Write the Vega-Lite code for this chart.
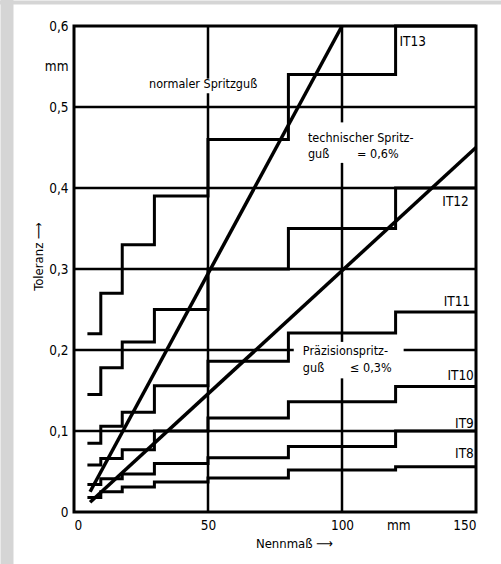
{
  "$schema": "https://vega.github.io/schema/vega-lite/v6.json",
  "width": 402,
  "height": 486,
  "autosize": "none",
  "padding": {"left": 74, "top": 26, "right": 25, "bottom": 52},
  "background": "white",
  "config": {
    "font": "Liberation Sans Narrow, DejaVu Sans Condensed, sans-serif",
    "view": {"stroke": "black", "strokeWidth": 3}
  },
  "datasets": {
    "hgrid": [
      {"tol": 0.1, "from": 0, "to": 150},
      {"tol": 0.2, "from": 0, "to": 82},
      {"tol": 0.2, "from": 123, "to": 150},
      {"tol": 0.3, "from": 0, "to": 150},
      {"tol": 0.4, "from": 0, "to": 150},
      {"tol": 0.5, "from": 0, "to": 150}
    ],
    "vgrid": [
      {"nenn": 50, "from": 0, "to": 0.517},
      {"nenn": 50, "from": 0.535, "to": 0.6},
      {"nenn": 100, "from": 0, "to": 0.165},
      {"nenn": 100, "from": 0.21, "to": 0.431},
      {"nenn": 100, "from": 0.481, "to": 0.6}
    ],
    "steps": [
      {"grade": "IT13", "nenn": 5, "tol": 0.22},
      {"grade": "IT13", "nenn": 10, "tol": 0.27},
      {"grade": "IT13", "nenn": 18, "tol": 0.33},
      {"grade": "IT13", "nenn": 30, "tol": 0.39},
      {"grade": "IT13", "nenn": 50, "tol": 0.46},
      {"grade": "IT13", "nenn": 80, "tol": 0.54},
      {"grade": "IT13", "nenn": 120, "tol": 0.6},
      {"grade": "IT13", "nenn": 150, "tol": 0.6},
      {"grade": "IT12", "nenn": 5, "tol": 0.145},
      {"grade": "IT12", "nenn": 10, "tol": 0.178},
      {"grade": "IT12", "nenn": 18, "tol": 0.21},
      {"grade": "IT12", "nenn": 30, "tol": 0.25},
      {"grade": "IT12", "nenn": 50, "tol": 0.3},
      {"grade": "IT12", "nenn": 80, "tol": 0.35},
      {"grade": "IT12", "nenn": 120, "tol": 0.4},
      {"grade": "IT12", "nenn": 150, "tol": 0.4},
      {"grade": "IT11", "nenn": 5, "tol": 0.085},
      {"grade": "IT11", "nenn": 10, "tol": 0.106},
      {"grade": "IT11", "nenn": 18, "tol": 0.123},
      {"grade": "IT11", "nenn": 30, "tol": 0.156},
      {"grade": "IT11", "nenn": 50, "tol": 0.186},
      {"grade": "IT11", "nenn": 80, "tol": 0.221},
      {"grade": "IT11", "nenn": 120, "tol": 0.247},
      {"grade": "IT11", "nenn": 150, "tol": 0.247},
      {"grade": "IT10", "nenn": 5, "tol": 0.058},
      {"grade": "IT10", "nenn": 10, "tol": 0.066},
      {"grade": "IT10", "nenn": 18, "tol": 0.077},
      {"grade": "IT10", "nenn": 30, "tol": 0.1},
      {"grade": "IT10", "nenn": 50, "tol": 0.116},
      {"grade": "IT10", "nenn": 80, "tol": 0.136},
      {"grade": "IT10", "nenn": 120, "tol": 0.155},
      {"grade": "IT10", "nenn": 150, "tol": 0.155},
      {"grade": "IT9", "nenn": 5, "tol": 0.034},
      {"grade": "IT9", "nenn": 10, "tol": 0.041},
      {"grade": "IT9", "nenn": 18, "tol": 0.047},
      {"grade": "IT9", "nenn": 30, "tol": 0.06},
      {"grade": "IT9", "nenn": 50, "tol": 0.067},
      {"grade": "IT9", "nenn": 80, "tol": 0.081},
      {"grade": "IT9", "nenn": 120, "tol": 0.1},
      {"grade": "IT9", "nenn": 150, "tol": 0.1},
      {"grade": "IT8", "nenn": 5, "tol": 0.018},
      {"grade": "IT8", "nenn": 10, "tol": 0.025},
      {"grade": "IT8", "nenn": 18, "tol": 0.031},
      {"grade": "IT8", "nenn": 30, "tol": 0.037},
      {"grade": "IT8", "nenn": 50, "tol": 0.042},
      {"grade": "IT8", "nenn": 80, "tol": 0.052},
      {"grade": "IT8", "nenn": 120, "tol": 0.056},
      {"grade": "IT8", "nenn": 150, "tol": 0.056}
    ],
    "limits": [
      {"limit": "0,6%", "nenn": 6, "tol": 0.025},
      {"limit": "0,6%", "nenn": 100, "tol": 0.6},
      {"limit": "0,3%", "nenn": 6, "tol": 0.012},
      {"limit": "0,3%", "nenn": 150, "tol": 0.45}
    ],
    "notes": [
      {"nenn": 28, "tol": 0.528, "label": "normaler Spritzguß"},
      {"nenn": 87.3, "tol": 0.462, "label": "technischer Spritz-"},
      {"nenn": 87.3, "tol": 0.442, "label": "guß"},
      {"nenn": 105.6, "tol": 0.442, "label": "= 0,6%"},
      {"nenn": 85.4, "tol": 0.199, "label": "Präzisionspritz-"},
      {"nenn": 85.4, "tol": 0.178, "label": "guß"},
      {"nenn": 103, "tol": 0.178, "label": "≤ 0,3%"}
    ],
    "grades": [
      {"nenn": 131.3, "tol": 0.58, "label": "IT13"},
      {"nenn": 147.3, "tol": 0.383, "label": "IT12"},
      {"nenn": 147.8, "tol": 0.259, "label": "IT11"},
      {"nenn": 149.2, "tol": 0.168, "label": "IT10"},
      {"nenn": 149.2, "tol": 0.109, "label": "IT9"},
      {"nenn": 149.2, "tol": 0.072, "label": "IT8"}
    ]
  },
  "resolve": {"axis": {"x": "independent", "y": "independent"}},
  "layer": [
    {
      "data": {"name": "hgrid"},
      "mark": {"type": "rule", "color": "black", "strokeWidth": 2.5},
      "encoding": {
        "y": {
          "field": "tol", "type": "quantitative",
          "scale": {"domain": [0, 0.6], "nice": false, "zero": true},
          "axis": {
            "orient": "left",
            "values": [0, 0.1, 0.2, 0.3, 0.4, 0.5, 0.55, 0.6],
            "format": ".1~f",
            "labelExpr": "datum.value == 0.55 ? 'mm' : replace(datum.label, '.', ',')",
            "domain": false, "ticks": false, "tickSize": 0, "grid": false,
            "labelPadding": 6, "labelFontSize": 13.5, "labelColor": "#000000",
            "title": "Toleranz ⟶", "titleFontSize": 13, "titleFontWeight": "normal",
            "titleColor": "#000000", "titleX": -36, "titleY": 230,
            "titleAlign": "center", "titleBaseline": "middle", "titleAngle": 270
          }
        },
        "x": {
          "field": "from", "type": "quantitative",
          "scale": {"domain": [0, 150], "nice": false, "zero": true},
          "axis": {
            "orient": "bottom",
            "values": [0, 50, 100, 121, 150],
            "labelExpr": "datum.value == 121 ? 'mm' : datum.label",
            "domain": false, "ticks": false, "tickSize": 0, "grid": false,
            "labelPadding": 6, "labelFontSize": 13.5, "labelColor": "#000000",
            "title": "Nennmaß ⟶", "titleFontSize": 13, "titleFontWeight": "normal",
            "titleColor": "#000000", "titleX": 220, "titleY": 31,
            "titleAlign": "center", "titleBaseline": "middle"
          }
        },
        "x2": {"field": "to"}
      }
    },
    {
      "data": {"name": "vgrid"},
      "mark": {"type": "rule", "color": "black", "strokeWidth": 2.5},
      "encoding": {
        "x": {
          "field": "nenn", "type": "quantitative",
          "scale": {"domain": [0, 150], "nice": false, "zero": true},
          "axis": {
            "orient": "top", "values": [75], "offset": 22,
            "domain": false, "labels": false, "grid": false, "title": null,
            "ticks": true, "tickSize": 4, "tickWidth": 1400, "tickColor": "#d5d5d5"
          }
        },
        "y": {
          "field": "from", "type": "quantitative",
          "scale": {"domain": [0, 0.6], "nice": false, "zero": true},
          "axis": {
            "orient": "left", "values": [0.3], "offset": 61,
            "domain": false, "labels": false, "grid": false, "title": null,
            "ticks": true, "tickSize": 13, "tickWidth": 1400, "tickColor": "#d5d5d5"
          }
        },
        "y2": {"field": "to"}
      }
    },
    {
      "data": {"name": "steps"},
      "mark": {"type": "line", "interpolate": "step-after", "color": "black", "strokeWidth": 3},
      "encoding": {
        "x": {"field": "nenn", "type": "quantitative", "axis": null},
        "y": {"field": "tol", "type": "quantitative", "axis": null},
        "detail": {"field": "grade", "type": "nominal"}
      }
    },
    {
      "data": {"name": "limits"},
      "mark": {"type": "line", "color": "black", "strokeWidth": 3.5},
      "encoding": {
        "x": {"field": "nenn", "type": "quantitative", "axis": null},
        "y": {"field": "tol", "type": "quantitative", "axis": null},
        "detail": {"field": "limit", "type": "nominal"}
      }
    },
    {
      "data": {"name": "notes"},
      "mark": {"type": "text", "align": "left", "baseline": "middle", "fontSize": 12.5, "color": "black"},
      "encoding": {
        "x": {"field": "nenn", "type": "quantitative", "axis": null},
        "y": {"field": "tol", "type": "quantitative", "axis": null},
        "text": {"field": "label"}
      }
    },
    {
      "data": {"name": "grades"},
      "mark": {"type": "text", "align": "right", "baseline": "middle", "fontSize": 13.5, "color": "black"},
      "encoding": {
        "x": {"field": "nenn", "type": "quantitative", "axis": null},
        "y": {"field": "tol", "type": "quantitative", "axis": null},
        "text": {"field": "label"}
      }
    }
  ]
}
